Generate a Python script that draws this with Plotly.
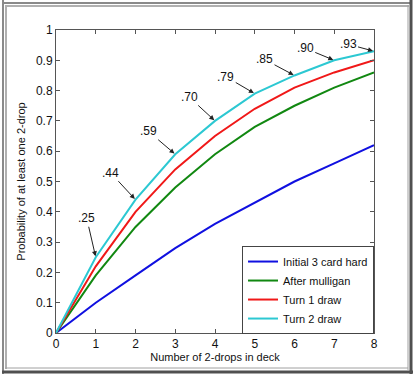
import plotly.graph_objects as go

drops = [0, 1, 2, 3, 4, 5, 6, 7, 8]
initial_hand = [0, 0.10, 0.19, 0.28, 0.36, 0.43, 0.50, 0.56, 0.62]
after_mulligan = [0, 0.19, 0.35, 0.48, 0.59, 0.68, 0.75, 0.81, 0.86]
turn1_draw = [0, 0.22, 0.40, 0.54, 0.65, 0.74, 0.81, 0.86, 0.90]
turn2_draw = [0, 0.25, 0.44, 0.59, 0.70, 0.79, 0.85, 0.90, 0.93]
series_names = ["Initial 3 card hard", "After mulligan", "Turn 1 draw", "Turn 2 draw"]
series_colors = ["#1010e0", "#118811", "#f01818", "#2cc8d2"]
annot_labels = [".25", ".44", ".59", ".70", ".79", ".85", ".90", ".93"]
annot_offsets = [(-9, -39), (-25, -27), (-27, -23), (-26, -24), (-29, -17), (-30, -16), (-29, -12), (-26, -7)]

FONT = "Liberation Sans, Arial, sans-serif"
FS = 11

fig = go.Figure()
for name, vals, col in zip(series_names, [initial_hand, after_mulligan, turn1_draw, turn2_draw], series_colors):
    fig.add_trace(go.Scatter(x=drops, y=vals, mode="lines", name=name,
                             line=dict(color=col, width=2)))

for xi, yi, lab, (ox, oy) in zip(drops[1:], turn2_draw[1:], annot_labels, annot_offsets):
    fig.add_annotation(x=xi, y=yi, text=lab, showarrow=True, ax=ox, ay=oy,
                       arrowhead=2, arrowsize=1, arrowwidth=1, arrowcolor="#222",
                       standoff=1, font=dict(size=12, color="#111"))

axis_common = dict(showgrid=False, zeroline=False, showline=True, linecolor="#555",
                   linewidth=1, mirror="ticks", ticks="inside", ticklen=4,
                   tickcolor="#555", tickfont=dict(size=12, color="#111"))
fig.update_xaxes(range=[0, 8], dtick=1, title=dict(text="Number of 2-drops in deck",
                 font=dict(size=FS, color="#111"), standoff=2), **axis_common)
fig.update_yaxes(range=[0, 1], dtick=0.1, title=dict(text="Probability of at least one 2-drop",
                 font=dict(size=FS, color="#111"), standoff=8), **axis_common)

fig.update_layout(
    width=416, height=376,
    margin=dict(l=56, r=42, t=30, b=43),
    plot_bgcolor="white",
    font=dict(family=FONT, size=12, color="#111"),
    legend=dict(x=0.585, y=0.287, xanchor="left", yanchor="top",
                bgcolor="white", bordercolor="#444", borderwidth=1,
                font=dict(size=FS), tracegroupgap=0, itemwidth=30),
)

# picture frame (pixel positions converted to paper coords)
W, H = 416, 376
ml, mr, mt, mb = 56, 42, 30, 43
pw, ph = W - ml - mr, H - mt - mb
def px(x):
    return (x - ml) / pw
def py(y):
    return (H - mb - y) / ph
frame_x0 = [3, 6, 2, 5, 411, 408, 2, 5]
frame_x1 = [3, 6, 412, 409, 411, 408, 413, 408]
frame_y0 = [0, 5, 3, 6, 0, 5, 372, 368]
frame_y1 = [374, 369, 3, 6, 374, 370, 372, 368]
frame_c = ["#8a8a8a", "#b0b0b0", "#8a8a8a", "#b0b0b0", "#505050", "#a0a0a0", "#505050", "#a0a0a0"]
frame_w = [2, 2, 2, 2, 3, 1, 3, 1]
for x0, x1, y0, y1, c, w in zip(frame_x0, frame_x1, frame_y0, frame_y1, frame_c, frame_w):
    fig.add_shape(type="line", xref="paper", yref="paper",
                  x0=px(x0), x1=px(x1), y0=py(y0), y1=py(y1),
                  line=dict(color=c, width=w), layer="below")

fig.write_html("out.html", config={"displayModeBar": False},
               post_script="document.body.style.margin='0';document.body.style.padding='0';")
